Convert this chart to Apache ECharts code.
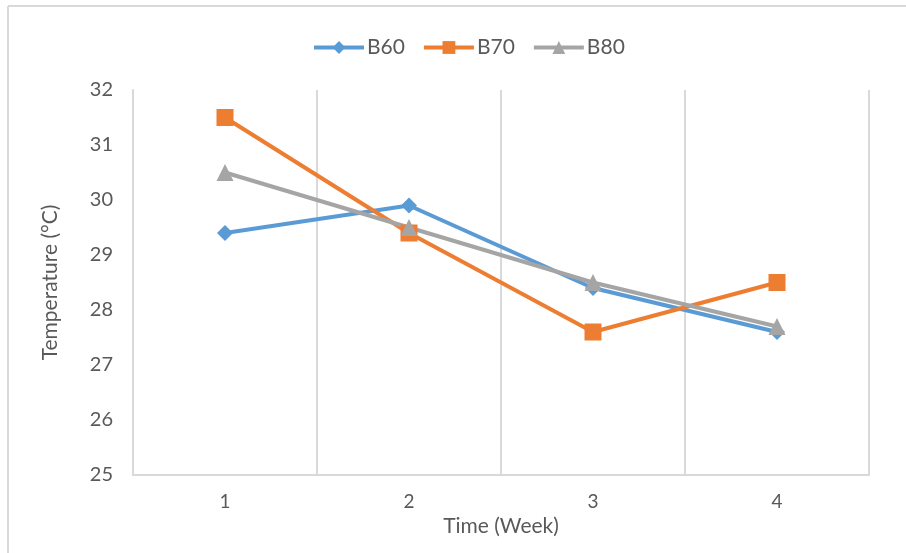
<!DOCTYPE html>
<html>
<head>
<meta charset="utf-8">
<script src="https://cdn.jsdelivr.net/npm/echarts@6/dist/echarts.min.js"></script>
<style>
  html, body { margin: 0; padding: 0; background: #fff; }
  #chart { width: 906px; height: 553px; }
</style>
</head>
<body>
<div id="chart"></div>
<script>
// Weekly temperature readings for three mixes
const weeks = ['1', '2', '3', '4'];
const b60 = [29.4, 29.9, 28.4, 27.6];
const b70 = [31.5, 29.4, 27.6, 28.5];
const b80 = [30.5, 29.5, 28.5, 27.7];

const FONT = 'Lato, "Noto Sans", sans-serif';
const TEXT = '#595959';
const GRID = '#d9d9d9';

function lineSeries(name, data, color, symbol, size) {
  return {
    name: name,
    type: 'line',
    data: data,
    symbol: symbol,
    symbolSize: size,
    showSymbol: true,
    lineStyle: { color: color, width: 4 },
    itemStyle: { color: color },
    emphasis: { disabled: true },
    z: 3
  };
}

const chart = echarts.init(document.getElementById('chart'));
chart.setOption({
  animation: false,
  backgroundColor: '#fff',
  textStyle: { fontFamily: FONT },
  legend: {
    top: 32,
    left: 307,
    itemWidth: 50,
    itemHeight: 16,
    itemGap: 17,
    lineStyle: { width: 4 },
    textStyle: { fontFamily: FONT, fontSize: 21, color: TEXT, padding: [0, 0, 0, -2] },
    data: ['B60', 'B70', 'B80']
  },
  grid: { left: 133, right: 37, top: 90, bottom: 78, containLabel: false },
  xAxis: {
    type: 'category',
    data: weeks,
    boundaryGap: true,
    name: 'Time (Week)',
    nameLocation: 'middle',
    nameGap: 40,
    nameTextStyle: { fontFamily: FONT, fontSize: 21, color: TEXT },
    axisLine: { show: true, lineStyle: { color: GRID, width: 2 } },
    axisTick: { show: false },
    axisLabel: { fontFamily: FONT, fontSize: 19, color: TEXT, margin: 17 },
    splitLine: { show: true, lineStyle: { color: GRID, width: 2 } }
  },
  yAxis: {
    type: 'value',
    min: 25,
    max: 32,
    interval: 1,
    name: 'Temperature (°C)',
    nameLocation: 'middle',
    nameGap: 72,
    nameRotate: 90,
    nameTextStyle: { fontFamily: FONT, fontSize: 21, color: TEXT },
    axisLine: { show: true, lineStyle: { color: GRID, width: 2 } },
    axisTick: { show: false },
    axisLabel: { fontFamily: FONT, fontSize: 20, color: TEXT, margin: 20 },
    splitLine: { show: false }
  },
  graphic: [
    { type: 'line', shape: { x1: 8, y1: 6, x2: 906, y2: 6 }, style: { stroke: GRID, lineWidth: 2 }, silent: true },
    { type: 'line', shape: { x1: 8, y1: 6, x2: 8, y2: 553 }, style: { stroke: GRID, lineWidth: 2 }, silent: true }
  ],
  series: [
    lineSeries('B60', b60, '#5b9bd5', 'diamond', 16),
    lineSeries('B70', b70, '#ed7d31', 'rect', 17),
    lineSeries('B80', b80, '#a5a5a5', 'triangle', 17)
  ]
});
</script>
</body>
</html>
